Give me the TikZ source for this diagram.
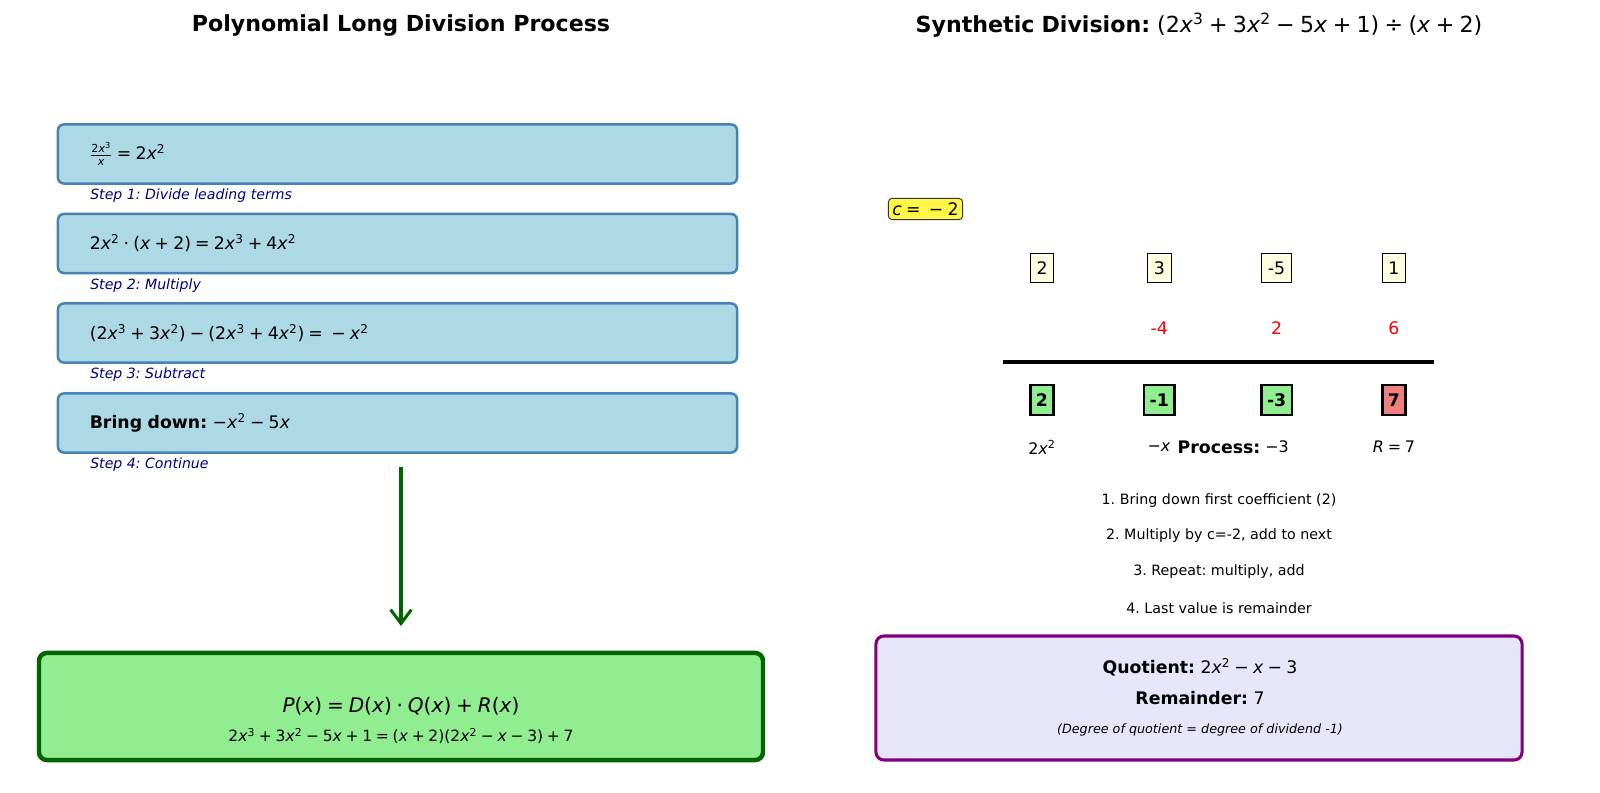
\documentclass[tikz,border=0pt]{standalone}
\usepackage{fontspec}
\setmainfont{DejaVu Sans}
\usetikzlibrary{arrows.meta}
\frenchspacing

\definecolor{boxblue}{HTML}{ADD8E6}
\definecolor{steelblue}{HTML}{4682B4}
\definecolor{navyblue}{HTML}{000080}
\definecolor{lightgreen}{HTML}{90EE90}
\definecolor{darkgreen}{HTML}{006400}
\definecolor{lightyellow}{HTML}{FFFFE0}
\definecolor{lightcoral}{HTML}{F08080}
\definecolor{lavender}{HTML}{E6E6FA}
\definecolor{mplpurple}{HTML}{800080}

\newcommand{\vx}{\textit{x}}
\newcommand{\sqr}{\textsuperscript{2}}
\newcommand{\cub}{\textsuperscript{3}}
\newcommand{\fs}[1]{\fontsize{#1}{#1}\selectfont}
\newcommand{\wsp}{\hspace{0.32em}}

\begin{document}
\begin{tikzpicture}[x=0.254mm, y=-0.254mm,
  tight/.style={execute at begin node={\spaceskip=0.24em plus 0.05em\relax}},
  title/.style={font=\fs{16}},
  stepbox/.style={tight, draw=steelblue, fill=boxblue, line width=1.8pt, rounded corners=1.5mm,
    text width=156.3mm, inner xsep=8.1mm, minimum height=15mm, align=left, font=\fs{12.5}},
  steplabel/.style={anchor=west, inner sep=0pt, text=navyblue, font=\fs{10.2}\itshape},
  coef/.style={draw=black, line width=0.7pt, fill=lightyellow, inner xsep=4.5pt,
    minimum height=20.5pt, font=\fs{12.5}},
  res/.style={draw=black, line width=1.8pt, fill=lightgreen, inner xsep=4pt,
    minimum height=21.5pt, font=\fs{12.5}\bfseries},
  prod/.style={text=red, font=\fs{12.5}},
  rowlab/.style={tight, font=\fs{11.5}},
  hint/.style={font=\fs{10.3}}]
\useasboundingbox (0,0) rectangle (1600,793);

% titles
\node[title] (titleL) at (401,25) {\textbf{Polynomial Long Division Process}};
\node[title, tight] (titleR) at (1199,25) {\textbf{Synthetic\wsp Division:}\wsp(2\vx\cub{} + 3\vx\sqr{} − 5\vx{} + 1) ÷ (\vx{} + 2)};

% long division steps
\foreach \i/\y/\eq/\lab in {
  1/154/{$\frac{\hbox{\fs{8}2\vx\cub}}{\hbox{\fs{8}\vx}}$ = 2\vx\sqr}/{Divide leading terms},
  2/243.5/{2\vx\sqr{} · (\vx{} + 2) = 2\vx\cub{} + 4\vx\sqr}/{Multiply},
  3/333/{(2\vx\cub{} + 3\vx\sqr) − (2\vx\cub{} + 4\vx\sqr) = \ − \vx\sqr}/{Subtract},
  4/423/{\textbf{Bring\wsp down:}\wsp−\vx\sqr{} − 5\vx}/{Continue}}
{
  \node[stepbox] (box\i) at (397.5,\y) {\eq};
  \node[steplabel] (lab\i) at (90,\y+42) {Step \i: \lab};
}

\coordinate (arrtop) at (401,467);
\coordinate (arrbot) at (401,626);
\draw[darkgreen, line width=2.2pt, -{Straight Barb[length=10pt, width=15pt, line width=2.2pt]}] (arrtop) -- (arrbot);

\node[draw=darkgreen, fill=lightgreen, line width=3.2pt, rounded corners=2mm,
  minimum width=183.9mm, minimum height=27.2mm] (result) at (401,706.5) {};
\node[tight, font=\fs{14.5}] (identity) at (401,706) {\textit{P}(\vx) = \textit{D}(\vx) · \textit{Q}(\vx) + \textit{R}(\vx)};
\node[tight, font=\fs{11.2}] (check) at (401,736) {2\vx\cub{} + 3\vx\sqr{} − 5\vx{} + 1 = (\vx{} + 2)(2\vx\sqr{} − \vx{} − 3) + 7};

% synthetic division
\node[tight, draw=black!80, fill=yellow!72, rounded corners=1mm, line width=0.7pt, inner sep=3pt, font=\fs{12.5}]
  (croot) at (925.5,209) {\textit{c} = \ − 2};

\foreach \c/\v in {1/2, 2/3, 3/-5, 4/1}
  \node[coef] (a\c) at ({1042+117.3*(\c-1)},268) {\v};
\foreach \c/\v in {2/-4, 3/2, 4/6}
  \node[prod] (m\c) at ({1042+117.3*(\c-1)},328) {\v};

\coordinate (barL) at (1003,362);
\coordinate (barR) at (1434,362);
\draw[line width=2.2pt] (barL) -- (barR);

\foreach \c/\v/\col in {1/2/lightgreen, 2/-1/lightgreen, 3/-3/lightgreen, 4/7/lightcoral}
  \node[res, fill=\col] (b\c) at ({1042+117.3*(\c-1)},400) {\v};

\node[rowlab] (q1) at (1042,447) {2\vx\sqr};
\node[rowlab] (q2) at (1159,447) {−\vx};
\node[rowlab] (q3) at (1277,447) {−3};
\node[rowlab] (rem) at (1394,447) {\textit{R} = 7};
\node[font=\fs{12.5}\bfseries] (proc) at (1219,447) {Process:};

\foreach \i/\y/\t in {1/501/{1. Bring down first coefficient (2)},
  2/536/{2. Multiply by c=-2, add to next},
  3/572/{3. Repeat: multiply, add},
  4/608/{4. Last value is remainder}}
  \node[hint] (h\i) at (1219,\y) {\t};

\node[draw=mplpurple, fill=lavender, line width=2.2pt, rounded corners=2mm,
  minimum width=164.1mm, minimum height=31.5mm] (answer) at (1199,698) {};
\node[tight, font=\fs{12.5}] (quot) at (1200,667) {\textbf{Quotient:}\wsp2\vx\sqr{} − \vx{} − 3};
\node[font=\fs{12.5}] (remd) at (1200,698) {\textbf{Remainder:} 7};
\node[font=\fs{9.2}\itshape] (note) at (1200,730) {(Degree of quotient = degree of dividend -1)};
\end{tikzpicture}
\end{document}
